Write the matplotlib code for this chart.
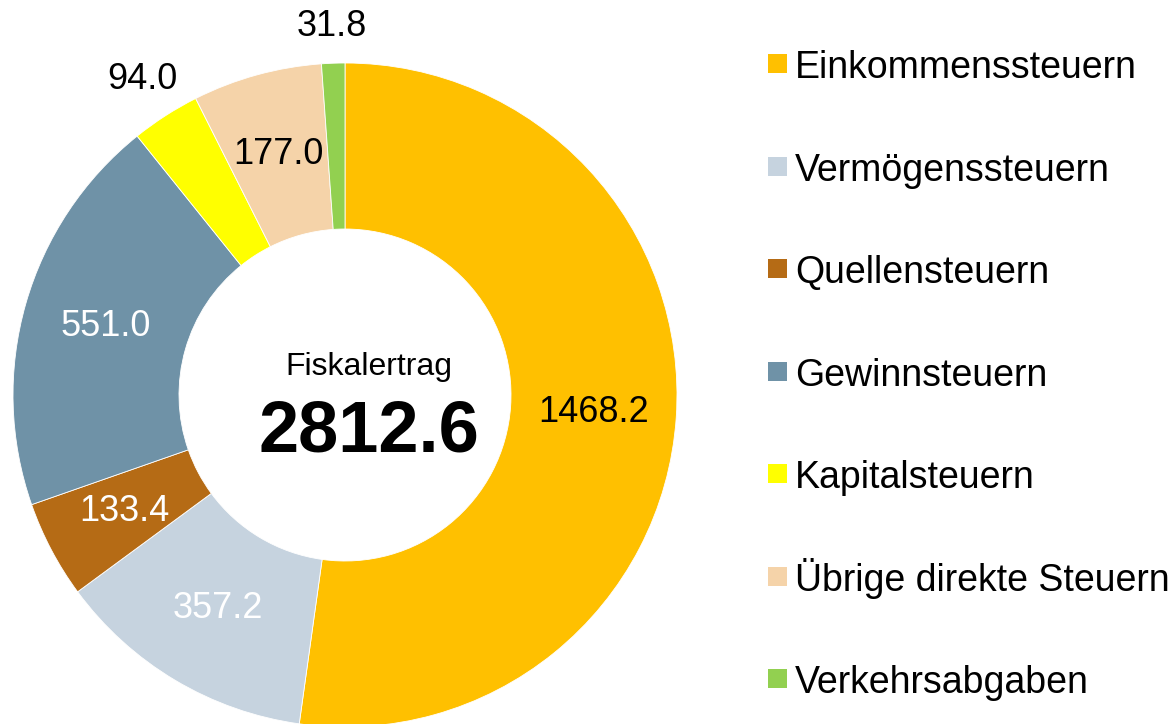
import matplotlib
matplotlib.use("Agg")
import matplotlib.pyplot as plt
import numpy as np
from matplotlib.patches import Rectangle

plt.rcParams['font.family'] = ['Liberation Sans', 'DejaVu Sans']

categories = ["Einkommenssteuern", "Vermögenssteuern", "Quellensteuern", "Gewinnsteuern",
              "Kapitalsteuern", "Übrige direkte Steuern", "Verkehrsabgaben"]
values = [1468.2, 357.2, 133.4, 551.0, 94.0, 177.0, 31.8]
colors = ["#FFC000", "#C6D3DF", "#B56B15", "#6F92A7", "#FFFF00", "#F5D3A9", "#92D050"]
label_colors = ["black", "white", "white", "white", "black", "black", "black"]
label_radius = [0.75, 0.75, 0.75, 0.75, 1.13, 0.75, 1.11]
center_title = "Fiskalertrag"
total_text = "2812.6"

W, H = 1175, 724
fig = plt.figure(figsize=(W / 100, H / 100), dpi=100)

cx, cy, R = 345, 724 - 395, 332
ax = fig.add_axes([(cx - R) / W, (cy - R) / H, 2 * R / W, 2 * R / H])
wedges, _ = ax.pie(values, colors=colors, startangle=90, counterclock=False, radius=1.0,
                   wedgeprops=dict(width=0.5, edgecolor="white", linewidth=0.6))
ax.set_xlim(-1, 1)
ax.set_ylim(-1, 1)
ax.set_aspect("equal")
ax.axis("off")

for w, v, c, r in zip(wedges, values, label_colors, label_radius):
    ang = np.deg2rad((w.theta1 + w.theta2) / 2)
    ax.text(r * np.cos(ang), r * np.sin(ang), f"{v:.1f}", ha="center", va="center",
            fontsize=26, color=c, clip_on=False)

fig.text(368.5 / W, 1 - 375 / H, center_title, ha="center", va="baseline", fontsize=23)
fig.text(368.5 / W, 1 - 451.7 / H, total_text, ha="center", va="baseline", fontsize=52,
         fontweight="bold")

# legend
base0, step = 78.3, 102.5
for i, (cat, col) in enumerate(zip(categories, colors)):
    base = base0 + i * step
    fig.add_artist(Rectangle((768 / W, 1 - (base - 5) / H), 19 / W, 19 / H,
                             transform=fig.transFigure, facecolor=col, edgecolor="none"))
    fig.text(795 / W, 1 - base / H, cat, ha="left", va="baseline", fontsize=27)

fig.savefig("out.png", dpi=100)
